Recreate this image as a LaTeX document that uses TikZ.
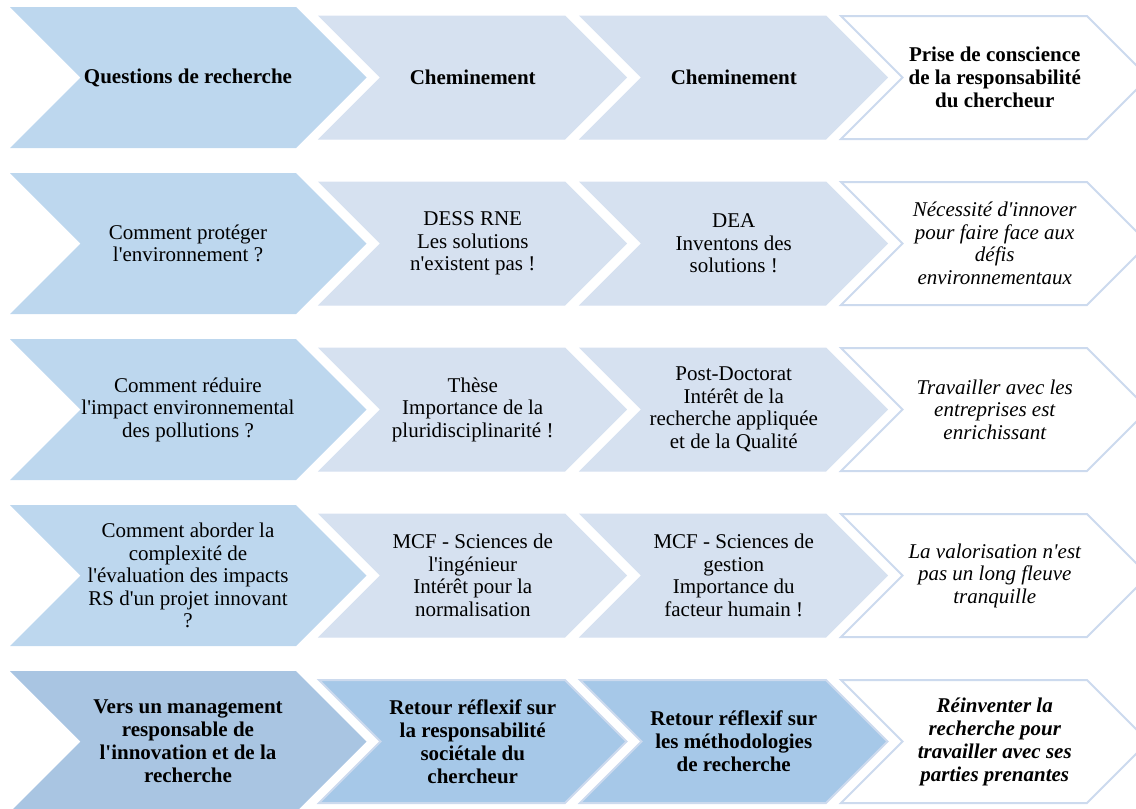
\documentclass[tikz,border=0pt]{standalone}
\usepackage{fontspec}
\setmainfont{Liberation Serif}
\definecolor{bigblue}{HTML}{BDD7EE}
\definecolor{midblue}{HTML}{D6E1F0}
\definecolor{edgeblue}{HTML}{CCDAEE}
\definecolor{lastbig}{HTML}{A9C5E2}
\definecolor{lastmid}{HTML}{A6C8E8}
\newcommand{\ap}{\textquotesingle}
\newcommand{\chevshape}[5]{% left x, right x, center y, half height, style
  \path[#5] (#1,#3-#4) -- (#2,#3-#4) -- (#2+#4,#3) -- (#2,#3+#4) -- (#1,#3+#4) -- (#1+#4,#3) -- cycle;}
\begin{document}
\begin{tikzpicture}[x=1pt,y=-1pt,
  bigfill/.style={fill=bigblue},
  midfill/.style={fill=midblue,draw=midblue,line width=1pt},
  outfill/.style={fill=white,draw=edgeblue,line width=2pt},
  lastbigfill/.style={fill=lastbig},
  lastmidfill/.style={fill=lastmid,draw=edgeblue,line width=2pt},
  txt/.style={align=center,inner sep=0pt,font=\fontsize{21}{22.5}\selectfont},
  btxt/.style={txt,font=\fontsize{21}{23}\selectfont\bfseries},
  itxt/.style={txt,font=\fontsize{21}{22.5}\selectfont\itshape},
  bitxt/.style={txt,font=\fontsize{21}{23}\selectfont\bfseries\itshape}]
\useasboundingbox (0,0) rectangle (1136,809);
\begin{scope}
\clip (0,0) rectangle (1136,809);
% row 1
\chevshape{10}{296}{77.5}{70.5}{bigfill}
\chevshape{319}{565}{77.5}{61.5}{midfill}
\chevshape{580}{826}{77.5}{61.5}{midfill}
\chevshape{841}{1087}{77.5}{61.5}{outfill}
% row 2
\chevshape{10}{296}{243.5}{70.5}{bigfill}
\chevshape{319}{565}{243.5}{61.5}{midfill}
\chevshape{580}{826}{243.5}{61.5}{midfill}
\chevshape{841}{1087}{243.5}{61.5}{outfill}
% row 3
\chevshape{10}{296}{409.5}{70.5}{bigfill}
\chevshape{319}{565}{409.5}{61.5}{midfill}
\chevshape{580}{826}{409.5}{61.5}{midfill}
\chevshape{841}{1087}{409.5}{61.5}{outfill}
% row 4
\chevshape{10}{296}{575.5}{70.5}{bigfill}
\chevshape{319}{565}{575.5}{61.5}{midfill}
\chevshape{580}{826}{575.5}{61.5}{midfill}
\chevshape{841}{1087}{575.5}{61.5}{outfill}
% row 5
\chevshape{10}{296}{741.5}{70.5}{lastbigfill}
\chevshape{319}{565}{741.5}{61.5}{lastmidfill}
\chevshape{580}{826}{741.5}{61.5}{lastmidfill}
\chevshape{841}{1087}{741.5}{61.5}{outfill}
\end{scope}
% texts row 1
\node[btxt] (a1) at (188,77.5) {Questions de recherche};
\node[btxt] (b1) at (472.75,77.5) {Cheminement};
\node[btxt] (c1) at (733.75,77.5) {Cheminement};
\node[btxt] (d1) at (994.75,77.5) {Prise de conscience\\de la responsabilité\\du chercheur};
% row 2
\node[txt] (a2) at (188,243.5) {Comment protéger\\l\ap environnement ?};
\node[txt] (b2) at (472.75,243.5) {DESS RNE\\Les solutions\\n\ap existent pas !};
\node[txt] (c2) at (733.75,243.5) {DEA\\Inventons des\\solutions !};
\node[itxt] (d2) at (994.75,243.5) {Nécessité d\ap innover\\pour faire face aux\\défis\\environnementaux};
% row 3
\node[txt] (a3) at (188,409.5) {Comment réduire\\l\ap impact environnemental\\des pollutions ?};
\node[txt] (b3) at (472.75,409.5) {Thèse\\Importance de la\\pluridisciplinarité !};
\node[txt] (c3) at (733.75,409.5) {Post-Doctorat\\Intérêt de la\\recherche appliquée\\et de la Qualité};
\node[itxt] (d3) at (994.75,409.5) {Travailler avec les\\entreprises est\\enrichissant};
% row 4
\node[txt] (a4) at (188,575.5) {Comment aborder la\\complexité de\\l\ap évaluation des impacts\\RS d\ap un projet innovant\\?};
\node[txt] (b4) at (472.75,575.5) {MCF - Sciences de\\l\ap ingénieur\\Intérêt pour la\\normalisation};
\node[txt] (c4) at (733.75,575.5) {MCF - Sciences de\\gestion\\Importance du\\facteur humain !};
\node[itxt] (d4) at (994.75,575.5) {La valorisation n\ap est\\pas un long fleuve\\tranquille};
% row 5
\node[btxt] (a5) at (188,741.5) {Vers un management\\responsable de\\l\ap innovation et de la\\recherche};
\node[btxt] (b5) at (472.75,741.5) {Retour réflexif sur\\la responsabilité\\sociétale du\\chercheur};
\node[btxt] (c5) at (733.75,741.5) {Retour réflexif sur\\les méthodologies\\de recherche};
\node[bitxt] (d5) at (994.75,741.5) {Réinventer la\\recherche pour\\travailler avec ses\\parties prenantes};
\end{tikzpicture}
\end{document}
